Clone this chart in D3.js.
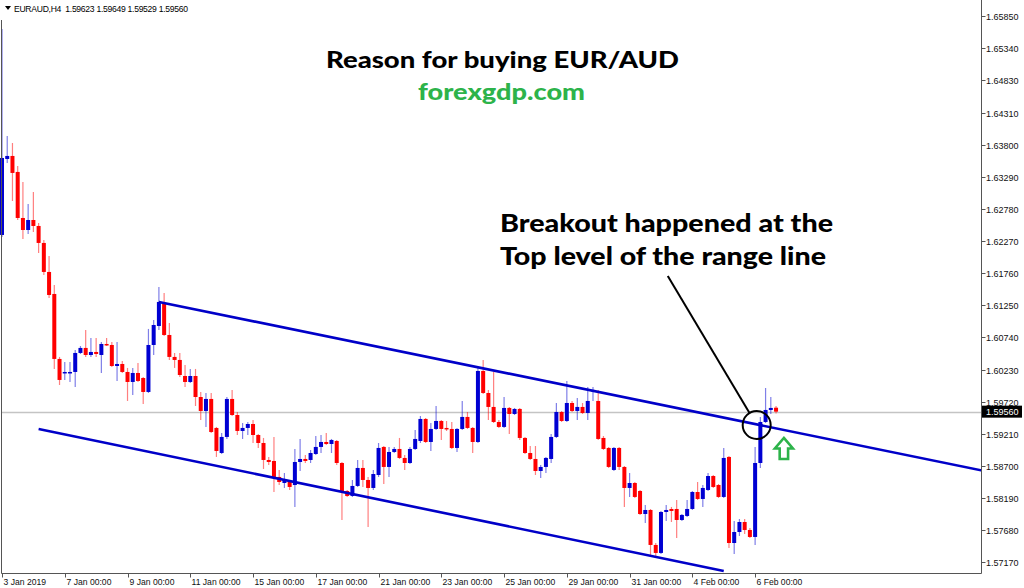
<!DOCTYPE html>
<html><head><meta charset="utf-8">
<script src="https://cdn.jsdelivr.net/npm/d3@7"></script>
<style>html,body{margin:0;padding:0;background:#fff;}svg{display:block;}</style>
</head><body><svg id="c" width="1024" height="588"></svg>
<script>
// ---- DATA (EURAUD H4, bar index 0 = 3 Jan 2019 00:00) ----
const openP = [1.62369,1.63577,1.63625,1.63371,1.62639,1.62448,1.62607,1.62512,1.62242,1.61781,
1.61431,1.60398,1.60175,1.60175,1.60191,1.60493,1.60573,1.60461,1.60509,1.60461,
1.60636,1.60620,1.60286,1.60318,1.60191,1.60032,1.60175,1.60095,1.59873,1.60620,
1.60922,1.61288,1.60779,1.60430,1.60382,1.60127,1.60032,1.60127,1.59793,1.59571,
1.59762,1.59301,1.58903,1.59158,1.59762,1.59507,1.59253,1.59301,1.59364,1.59189,
1.59062,1.58792,1.58776,1.58522,1.58426,1.58442,1.58394,1.58760,1.58808,1.58792,
1.58887,1.58999,1.59078,1.59046,1.59094,1.58744,1.58299,1.58220,1.58379,1.58665,
1.58474,1.58347,1.58553,1.58999,1.58681,1.58919,1.58967,1.58824,1.58744,1.58967,
1.59094,1.59444,1.59078,1.59285,1.59412,1.59301,1.59285,1.58983,1.59285,1.59476,
1.59301,1.59078,1.60207,1.59857,1.59635,1.59396,1.59317,1.59619,1.59523,1.59603,
1.59142,1.58903,1.58808,1.58617,1.58681,1.58808,1.59158,1.59555,1.59412,1.59698,
1.59571,1.59635,1.59539,1.59889,1.59730,1.59142,1.58983,1.58633,1.58983,1.58681,
1.58347,1.58426,1.58299,1.57933,1.57997,1.57441,1.57314,1.57965,1.58013,1.58013,
1.57838,1.57902,1.58013,1.58283,1.58172,1.58315,1.58537,1.58394,1.58204,1.58840,
1.57472,1.57647,1.57806,1.57679,1.57568,1.58744,1.59396,1.59587,1.59623];
const highP = [1.65644,1.63943,1.63832,1.63466,1.63212,1.62862,1.63053,1.62560,1.62289,1.62035,
1.61574,1.60430,1.60350,1.60350,1.60541,1.60604,1.60859,1.60732,1.60732,1.60668,
1.60732,1.60668,1.60668,1.60366,1.60255,1.60255,1.60334,1.60111,1.60875,1.61018,
1.61542,1.61447,1.60970,1.60493,1.60493,1.60302,1.60239,1.60239,1.59873,1.59857,
1.59857,1.59317,1.59221,1.59793,1.59905,1.59555,1.59380,1.59396,1.59428,1.59205,
1.59142,1.58840,1.59158,1.58633,1.58585,1.58474,1.58967,1.59126,1.58871,1.58951,
1.59173,1.59189,1.59221,1.59126,1.59110,1.58760,1.58315,1.58474,1.58792,1.58792,
1.58522,1.58633,1.59062,1.59014,1.58999,1.58999,1.59142,1.58871,1.58999,1.59269,
1.59491,1.59460,1.59380,1.59650,1.59428,1.59412,1.59396,1.59301,1.59730,1.59555,
1.59317,1.60255,1.60382,1.59905,1.60191,1.59428,1.59793,1.59635,1.59619,1.59619,
1.59158,1.59014,1.59014,1.58712,1.58840,1.59205,1.59698,1.59571,1.60048,1.59730,
1.59778,1.59698,1.59952,1.59952,1.59905,1.59173,1.58999,1.58999,1.58999,1.58696,
1.58585,1.58442,1.58315,1.58077,1.58013,1.57472,1.57981,1.58077,1.58045,1.58156,
1.57933,1.58156,1.58299,1.58442,1.58394,1.58585,1.58553,1.58410,1.58983,1.58856,
1.57822,1.57854,1.57854,1.57711,1.58999,1.59476,1.59937,1.59793,1.59649];
const lowP = [1.62337,1.63514,1.62909,1.62607,1.62305,1.62385,1.62417,1.62083,1.61733,1.61367,
1.60239,1.59984,1.60064,1.60032,1.59952,1.60477,1.60430,1.60430,1.60430,1.60175,
1.60604,1.60270,1.60048,1.60175,1.59730,1.59825,1.60032,1.59682,1.59857,1.60461,
1.60859,1.60763,1.60382,1.60255,1.60111,1.59952,1.60016,1.59650,1.59428,1.59317,
1.59221,1.58840,1.58887,1.59126,1.59491,1.59189,1.59126,1.59189,1.59062,1.58983,
1.58649,1.58712,1.58283,1.58394,1.58347,1.58315,1.58045,1.58617,1.58744,1.58744,
1.58871,1.58903,1.59030,1.58903,1.58712,1.57838,1.58204,1.58204,1.58363,1.58363,
1.57727,1.58315,1.58522,1.58410,1.58522,1.58903,1.58808,1.58633,1.58728,1.58951,
1.59062,1.59062,1.58935,1.59269,1.59110,1.59253,1.58967,1.58919,1.59269,1.59285,
1.58903,1.59062,1.59841,1.59428,1.59380,1.59301,1.59301,1.59205,1.59507,1.59110,
1.58887,1.58792,1.58553,1.58506,1.58585,1.58744,1.59142,1.59396,1.59396,1.59555,
1.59428,1.59523,1.59428,1.59730,1.59110,1.58951,1.58665,1.58617,1.58633,1.58045,
1.58204,1.58188,1.57918,1.57790,1.57282,1.57250,1.57298,1.57822,1.57806,1.57552,
1.57822,1.57886,1.57997,1.58156,1.58045,1.58299,1.58347,1.58188,1.58188,1.57393,
1.57298,1.57584,1.57616,1.57552,1.57441,1.58665,1.59380,1.59523,1.59529];
const closeP = [1.63593,1.63625,1.63355,1.62639,1.62448,1.62607,1.62512,1.62242,1.61781,1.61415,
1.60398,1.60064,1.60191,1.60191,1.60493,1.60573,1.60461,1.60509,1.60477,1.60636,
1.60620,1.60286,1.60318,1.60191,1.60032,1.60175,1.60048,1.59873,1.60620,1.60938,
1.61304,1.60779,1.60430,1.60382,1.60143,1.60032,1.60127,1.59793,1.59571,1.59762,
1.59237,1.58935,1.59158,1.59762,1.59507,1.59253,1.59301,1.59364,1.59189,1.59062,
1.58792,1.58760,1.58522,1.58442,1.58474,1.58363,1.58760,1.58808,1.58776,1.58903,
1.58999,1.59078,1.59046,1.59110,1.58744,1.58283,1.58220,1.58379,1.58665,1.58474,
1.58347,1.58569,1.58983,1.58681,1.58919,1.58967,1.58824,1.58744,1.58967,1.59126,
1.59444,1.59078,1.59285,1.59412,1.59285,1.59285,1.58983,1.59285,1.59476,1.59301,
1.59078,1.60207,1.59857,1.59635,1.59396,1.59317,1.59619,1.59523,1.59603,1.59142,
1.58903,1.58808,1.58617,1.58681,1.58824,1.59158,1.59555,1.59412,1.59698,1.59571,
1.59635,1.59539,1.59730,1.59905,1.59126,1.58967,1.58681,1.58983,1.58681,1.58347,
1.58426,1.58204,1.57933,1.57997,1.57441,1.57314,1.57965,1.57997,1.57981,1.57838,
1.57918,1.58013,1.58283,1.58172,1.58347,1.58537,1.58363,1.58204,1.58824,1.57472,
1.57647,1.57806,1.57679,1.57568,1.58744,1.59396,1.59587,1.59619,1.59560];
const dateTickBars = [0,12,24,36,48,60,72,84,96,108,120,132,144];
const dateTickLabels = ["3 Jan 2019","7 Jan 00:00","9 Jan 00:00","11 Jan 00:00","15 Jan 00:00","17 Jan 00:00","21 Jan 00:00","23 Jan 00:00","25 Jan 00:00","29 Jan 00:00","31 Jan 00:00","4 Feb 00:00","6 Feb 00:00"];
const priceTicks = [1.65850,1.65340,1.64830,1.64310,1.63800,1.63290,1.62780,1.62270,1.61760,1.61250,1.60740,1.60230,1.59720,1.59210,1.58700,1.58190,1.57680,1.57170];
const lastPrice = 1.59560;
const upperTrend = [[30,1.61304],[190,1.58580]];
const lowerTrend = [[7,1.59285],[138,1.57027]];
const breakoutPoint = [144.3,1.59348];
const pointerStart = [127.3,1.61717];
const arrowTip = [149.5,1.59142];
const headerText = "EURAUD,H4  1.59623 1.59649 1.59529 1.59560";

// ---- LAYOUT ----
const W=1024,H=588;
const plot={l:1.5,t:1.5,r:981.5,b:573.5};
const svg=d3.select("#c");
svg.append("rect").attr("width",W).attr("height",H).attr("fill","#fff");
const x=d3.scaleLinear().domain([0,186]).range([2,2+5.23*186]);
const y=d3.scaleLinear().domain([1.57170,1.65850]).range([562,16]);
const BLUE="#0000d2", RED="#ff0000";

svg.append("clipPath").attr("id","pc").append("rect")
  .attr("x",0).attr("y",plot.t).attr("width",plot.r-0).attr("height",plot.b-plot.t);
const g=svg.append("g").attr("clip-path","url(#pc)");

// current price line
g.append("line").attr("x1",plot.l).attr("x2",plot.r)
 .attr("y1",Math.round(y(lastPrice))+0.5).attr("y2",Math.round(y(lastPrice))+0.5)
 .attr("stroke","#c4c4c4").attr("stroke-width",1.5);

// candles
const bars=d3.range(openP.length).map(i=>({i,o:openP[i],h:highP[i],l:lowP[i],c:closeP[i]}));
const cg=g.append("g");
cg.selectAll("line.w").data(bars).join("line").attr("class","w")
 .attr("x1",d=>x(d.i)).attr("x2",d=>x(d.i))
 .attr("y1",d=>y(d.h)).attr("y2",d=>y(d.l))
 .attr("stroke",d=>d.c>=d.o?BLUE:RED).attr("stroke-opacity",0.5).attr("stroke-width",1.2);
cg.selectAll("rect.b").data(bars).join("rect").attr("class","b")
 .attr("x",d=>x(d.i)-2).attr("width",4)
 .attr("y",d=>y(Math.max(d.o,d.c)))
 .attr("height",d=>Math.max(1.5,Math.abs(y(d.o)-y(d.c))))
 .attr("fill",d=>d.c>=d.o?BLUE:RED);

// trend lines
const tl=d3.line().x(d=>x(d[0])).y(d=>y(d[1]));
[upperTrend,lowerTrend].forEach(t=>{
  g.append("path").attr("d",tl(t)).attr("fill","none").attr("stroke","#0000c8").attr("stroke-width",2.6);
});

// frame & axes
svg.append("path").attr("d",`M${plot.l},20V${plot.b}H${plot.r}V0`)
 .attr("fill","none").attr("stroke","#555").attr("stroke-width",1);
const ya=svg.append("g").attr("font-family","Liberation Sans, Arial, sans-serif").attr("font-size",9).attr("fill","#111");
priceTicks.forEach(p=>{
  const yy=Math.round(y(p))+0.5;
  ya.append("line").attr("x1",plot.r).attr("x2",plot.r+4).attr("y1",yy).attr("y2",yy).attr("stroke","#555");
  ya.append("text").attr("x",986).attr("y",yy).attr("dy","0.35em").text(p.toFixed(5));
});
// last price box
const ly=y(lastPrice);
svg.append("rect").attr("x",plot.r+0.5).attr("y",ly-6).attr("width",40).attr("height",12).attr("fill","#000");
svg.append("text").attr("x",986).attr("y",ly).attr("dy","0.35em").attr("fill","#fff")
 .attr("font-family","Liberation Sans, Arial, sans-serif").attr("font-size",9).text(lastPrice.toFixed(5));

const xa=svg.append("g").attr("font-family","Liberation Sans, Arial, sans-serif").attr("font-size",8.6).attr("fill","#111");
dateTickBars.forEach((b,k)=>{
  const xx=Math.round(x(b))+0.5;
  xa.append("line").attr("x1",xx).attr("x2",xx).attr("y1",plot.b).attr("y2",plot.b+4).attr("stroke","#555");
  xa.append("text").attr("x",xx+1).attr("y",585).text(dateTickLabels[k]);
});

// header
svg.append("path").attr("d","M5,6H11L8,10Z").attr("fill","#000");
svg.append("text").attr("x",14).attr("y",11.5).attr("font-family","Liberation Sans, Arial, sans-serif")
 .attr("font-size",8.6).attr("fill","#000").attr("textLength",174).attr("lengthAdjust","spacing")
 .attr("xml:space","preserve").text(headerText);

// titles
const F="Lato, 'Open Sans', sans-serif";
svg.append("text").attr("x",326).attr("y",68).attr("font-family",F).attr("font-weight",900)
 .attr("font-size",23).attr("fill","#000").attr("textLength",353).attr("lengthAdjust","spacingAndGlyphs")
 .text("Reason for buying EUR/AUD");
svg.append("text").attr("x",418).attr("y",100).attr("font-family",F).attr("font-weight",900)
 .attr("font-size",22).attr("fill","#2db34a").attr("textLength",167).attr("lengthAdjust","spacingAndGlyphs")
 .text("forexgdp.com");
svg.append("text").attr("x",500).attr("y",232).attr("font-family",F).attr("font-weight",900)
 .attr("font-size",25).attr("fill","#000").attr("textLength",333).attr("lengthAdjust","spacingAndGlyphs")
 .text("Breakout happened at the");
svg.append("text").attr("x",500).attr("y",265).attr("font-family",F).attr("font-weight",900)
 .attr("font-size",25).attr("fill","#000").attr("textLength",326).attr("lengthAdjust","spacingAndGlyphs")
 .text("Top level of the range line");

// annotation circle and pointer
const cx=x(breakoutPoint[0]), cy=y(breakoutPoint[1]), r=14;
const sx=x(pointerStart[0]), sy=y(pointerStart[1]);
const ang=Math.atan2(sy-cy,sx-cx);
svg.append("line").attr("x1",sx).attr("y1",sy).attr("x2",cx+r*Math.cos(ang)).attr("y2",cy+r*Math.sin(ang))
 .attr("stroke","#000").attr("stroke-width",2);
svg.append("circle").attr("cx",cx).attr("cy",cy).attr("r",r).attr("fill","none").attr("stroke","#000").attr("stroke-width",2);

// green up arrow
const ax=x(arrowTip[0]), ay=y(arrowTip[1]);
svg.append("path").attr("transform",`translate(${ax},${ay})`)
 .attr("d","M0,0L9,10.5H4.2V21H-4.2V10.5H-9Z")
 .attr("fill","#fff").attr("stroke","#2db34a").attr("stroke-width",2.6).attr("stroke-linejoin","miter");
</script></body></html>
